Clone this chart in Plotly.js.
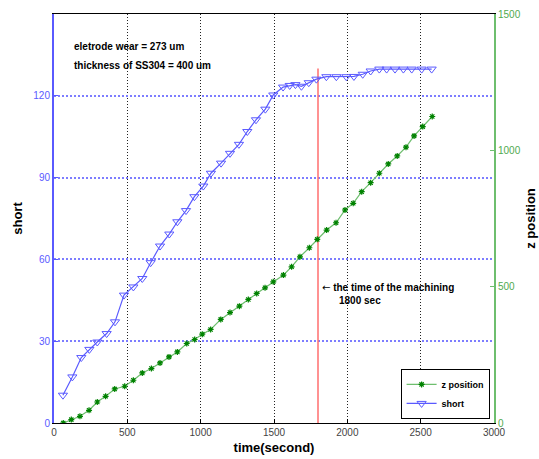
<!DOCTYPE html>
<html>
<head>
<meta charset="utf-8">
<script src="https://cdn.plot.ly/plotly-3.0.1.min.js"></script>
<style>html,body{margin:0;padding:0;background:#fff;}#chart{width:539px;height:459px;}</style>
</head>
<body>
<div id="chart"></div>
<script>
// short series (left axis)
const shortTime = [61,125,186,241,295,359,416,477,541,602,659,723,786,841,900,957,1018,1070,1139,1200,1261,1318,1377,1441,1495,1562,1607,1646,1687,1737,1789,1857,1925,1993,2045,2105,2159,2218,2268,2325,2382,2439,2507,2575];
const shortValues = [10.2,16.9,24.0,27.0,29.7,32.8,37.1,46.9,49.9,53.0,58.8,64.9,69.3,73.8,77.9,83.0,86.9,91.6,95.3,98.9,102.2,106.9,111.2,115.1,120.3,123.2,123.8,124.1,123.5,124.8,126.1,127.0,127.0,127.0,127.1,127.9,129.1,129.8,129.8,129.8,129.8,129.8,129.8,129.8];
// z position series (right axis)
const zTime = [63,118,177,239,295,352,414,482,541,602,664,723,784,841,905,959,1011,1068,1137,1200,1264,1325,1382,1439,1495,1564,1620,1677,1741,1795,1859,1923,1984,2040,2098,2159,2218,2279,2340,2400,2455,2514,2579];
const zValues = [0,12.5,24.6,46.6,77.1,98,124.8,134.7,156.7,183.6,199.7,220.3,242.4,260.7,291.6,306.3,325.8,343.1,380,405,428.6,453.2,475.2,495.8,517.8,542.4,572.9,609.6,642.7,673.5,707.7,734.5,781.1,805.7,848.3,881.3,915.9,950,979.4,1011.4,1053,1087,1124];
// machining time marker
const machiningTime = [1800, 1800];
const machiningSpan = [0, 130];
// ticks
const xTicks = [0,500,1000,1500,2000,2500,3000];
const shortTicks = [0,30,60,90,120];
const zTicks = [0,500,1000,1500];

const FONT = 'Liberation Sans, Arial, sans-serif';
const blue = 'rgb(90,90,255)';
const gridBlue = 'rgb(125,125,255)';
const green = 'rgb(110,190,110)';

const traces = [
  {
    x: machiningTime, y: machiningSpan, mode: 'lines', showlegend: false,
    line: {color: 'rgb(255,110,110)', width: 1.5}, hoverinfo: 'skip'
  },
  {
    x: zTime, y: zValues, yaxis: 'y2', name: 'z position', mode: 'lines+markers',
    line: {color: green, width: 1.2},
    marker: {symbol: 'asterisk-open', size: 5, color: 'rgb(0,130,0)', line: {color: 'rgb(0,130,0)', width: 1.2}}
  },
  {
    x: shortTime, y: shortValues, name: 'short', mode: 'lines+markers',
    line: {color: blue, width: 1.2},
    marker: {symbol: 'triangle-down-open', size: 8, color: blue, line: {color: blue, width: 1}}
  }
];

const layout = {
  width: 539, height: 459,
  margin: {l: 54, r: 45, t: 14, b: 36, pad: 0},
  paper_bgcolor: '#fff', plot_bgcolor: '#fff',
  font: {family: FONT, size: 10, color: '#333'},
  showlegend: true,
  legend: {
    x: 0.99, y: 0.01, xanchor: 'right', yanchor: 'bottom',
    bordercolor: '#000', borderwidth: 1, bgcolor: '#fff',
    font: {family: FONT, size: 9, color: '#000', weight: 'bold'},
    traceorder: 'normal', itemwidth: 30, tracegroupgap: 0
  },
  xaxis: {
    range: [0, 3000], tickvals: xTicks, ticktext: xTicks.map(String),
    showgrid: true, gridcolor: '#222', griddash: '1px,2px', gridwidth: 1,
    zeroline: false, showline: true, linecolor: '#000', linewidth: 1, mirror: true,
    ticks: 'inside', ticklen: 4, tickcolor: '#000',
    tickfont: {family: FONT, size: 10, color: '#444'},
    title: {text: 'time(second)', font: {family: FONT, size: 13, color: '#000', weight: 'bold'}, standoff: 5}
  },
  yaxis: {
    range: [0, 150], tickvals: shortTicks, ticktext: shortTicks.map(String),
    showgrid: true, gridcolor: gridBlue, griddash: '2px,2px', gridwidth: 2,
    zeroline: false, showline: true, linecolor: blue, linewidth: 2,
    ticks: 'inside', ticklen: 4, tickcolor: blue,
    tickfont: {family: FONT, size: 10, color: blue},
    title: {text: 'short', font: {family: FONT, size: 13, color: '#000', weight: 'bold'}, standoff: 8}
  },
  yaxis2: {
    range: [0, 1500], tickvals: zTicks, ticktext: zTicks.map(String),
    overlaying: 'y', side: 'right', showgrid: false, zeroline: false,
    showline: true, linecolor: green, linewidth: 2,
    ticks: 'inside', ticklen: 4, tickcolor: green,
    tickfont: {family: FONT, size: 10, color: 'rgb(80,170,80)'},
    title: {text: 'z position', font: {family: FONT, size: 13, color: '#000', weight: 'bold'}, standoff: 6}
  },
  annotations: [
    {xref: 'x', yref: 'y', x: 123, y: 138, xanchor: 'left', yanchor: 'middle', showarrow: false,
     text: 'eletrode wear = 273 um', font: {family: FONT, size: 10, color: '#000', weight: 'bold'}},
    {xref: 'x', yref: 'y', x: 123, y: 131, xanchor: 'left', yanchor: 'middle', showarrow: false,
     text: 'thickness of SS304 = 400 um', font: {family: FONT, size: 10, color: '#000', weight: 'bold'}},
    {xref: 'x', yref: 'y', x: 1814, y: 49.8, xanchor: 'left', yanchor: 'middle', showarrow: false,
     text: '<span style="font-family:DejaVu Sans;font-weight:normal">\u2190</span> the time of the machining', font: {family: FONT, size: 10, color: '#000', weight: 'bold'}},
    {xref: 'x', yref: 'y', x: 1930, y: 45, xanchor: 'left', yanchor: 'middle', showarrow: false,
     text: '1800 sec', font: {family: FONT, size: 10, color: '#000', weight: 'bold'}}
  ]
};

Plotly.newPlot('chart', traces, layout, {displayModeBar: false, staticPlot: true});
</script>
</body>
</html>
